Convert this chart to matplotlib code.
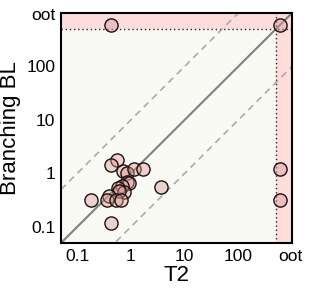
import numpy as np
import matplotlib
matplotlib.use("Agg")
import matplotlib.pyplot as plt

plt.rcParams['font.family'] = ['Liberation Sans', 'DejaVu Sans']

OOT = 600.0
CUT = 500.0

# T2 values (x) and Branching BL values (y); OOT means out of tree
t2 = [0.54, 0.43, 0.70, 0.83, 1.12, 1.65, 0.84, 0.92, 0.68, 0.57, 0.75, 0.60,
      0.39, 0.36, 0.53, 0.65, 0.18, 3.6, 0.43, 0.43, OOT, OOT, OOT]
branch = [1.79, 1.44, 1.11, 1.03, 1.20, 1.20, 0.70, 0.66, 0.57, 0.54, 0.44, 0.46,
          0.38, 0.32, 0.32, 0.32, 0.32, 0.55, 0.12, OOT, 1.20, 0.32, OOT]

tick_vals = [0.1, 1, 10, 100, 950]
tick_labels = ['0.1', '1', '10', '100', 'oot']
lims = (0.05, 1000)

fig = plt.figure(figsize=(3.1, 2.9), dpi=100)
ax = fig.add_axes([61/310, 47/290, 231/310, 230/290])
ax.set_xscale('log')
ax.set_yscale('log')
ax.set_xlim(*lims)
ax.set_ylim(*lims)
ax.set_facecolor('#fafaf5')

pink = '#fddcdc'
ax.axvspan(CUT, lims[1], color=pink, lw=0, zorder=0)
ax.axhspan(CUT, lims[1], color=pink, lw=0, zorder=0)
ax.axvline(CUT, color='#3a1a1a', ls=(0, (1, 2)), lw=1.0, zorder=1)
ax.axhline(CUT, color='#3a1a1a', ls=(0, (1, 2)), lw=1.0, zorder=1)

d = np.array(lims)
ax.plot(d, d, color='#808080', lw=1.5, zorder=2)
ax.plot(d, d * 10, color='#aaaaaa', lw=1.2, ls=(0, (4, 3)), zorder=2)
ax.plot(d, d / 10, color='#aaaaaa', lw=1.2, ls=(0, (4, 3)), zorder=2)

ax.scatter(t2, branch, s=90, facecolors=[(0.85, 0.6, 0.58, 0.42)],
           edgecolors='#1a1010', linewidths=1.0, zorder=3, clip_on=False)

ax.set_xticks(tick_vals)
ax.set_xticklabels(tick_labels)
ax.set_yticks(tick_vals)
ax.set_yticklabels(tick_labels)
ax.minorticks_off()
ax.tick_params(length=0, labelsize=12.5, pad=4)
for s in ax.spines.values():
    s.set_linewidth(1.5)
    s.set_color('black')

ax.set_xlabel('T2', fontsize=16, labelpad=1)
ax.set_ylabel('Branching BL', fontsize=16, labelpad=4)

fig.savefig('out.png', dpi=100)
